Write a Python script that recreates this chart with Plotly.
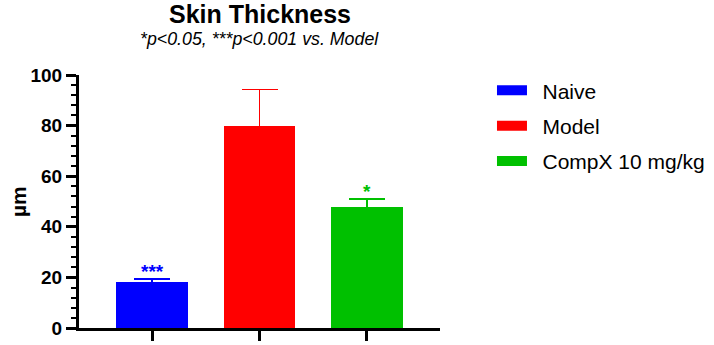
import plotly.graph_objects as go

# Data
groups = ["Naive", "Model", "CompX 10 mg/kg"]
means = [18.3, 79.8, 47.9]
sems = [1.0, 14.5, 3.0]
colors = ["#0000FF", "#FF0000", "#00C000"]
sig_labels = ["***", "", "*"]
y_ticks = [0, 20, 40, 60, 80, 100]

FONT = "Liberation Sans, Arial, sans-serif"

fig = go.Figure()

for i, g in enumerate(groups):
    fig.add_trace(go.Bar(
        x=[g], y=[means[i]],
        marker=dict(color=colors[i], line=dict(width=0)),
        width=0.67,
        error_y=dict(type="data", array=[sems[i]], arrayminus=[means[i]],
                     symmetric=False, color=colors[i], thickness=1.5, width=18),
        showlegend=False,
    ))
    # legend entry (wide rectangular swatch)
    fig.add_trace(go.Scatter(
        x=[None], y=[None], mode="lines", name="\u2002" + g,
        line=dict(color=colors[i], width=13),
        legendgroup=g, showlegend=True,
    ))

annotations = []
for i, g in enumerate(groups):
    if sig_labels[i]:
        annotations.append(dict(
            x=g, y=means[i] + sems[i], xref="x", yref="y",
            text=sig_labels[i], showarrow=False, yanchor="bottom",
            yshift=-5, font=dict(family=FONT, size=19, color=colors[i], weight="bold"),
        ))

annotations += [
    dict(x=0.5, y=1.243, xref="paper", yref="paper", text="<b>Skin Thickness</b>",
         showarrow=False, xanchor="center", yanchor="middle",
         font=dict(family=FONT, size=25, color="black")),
    dict(x=0.5, y=1.142, xref="paper", yref="paper",
         text="<i>*p<0.05, ***p<0.001 vs. Model</i>",
         showarrow=False, xanchor="center", yanchor="middle",
         font=dict(family=FONT, size=17.8, color="black")),
    dict(x=-0.1676, y=0.5, xref="paper", yref="paper", text="<b>µm</b>",
         showarrow=False, textangle=-90, xanchor="center", yanchor="middle",
         font=dict(family=FONT, size=21, color="black")),
]

fig.update_layout(
    width=714, height=345,
    margin=dict(l=79, r=274, t=75, b=17, autoexpand=False),
    paper_bgcolor="white", plot_bgcolor="white",
    bargap=0,
    annotations=annotations,
    legend=dict(x=1.144, y=1.019, xanchor="left", yanchor="top",
                font=dict(family=FONT, size=21, color="black"),
                tracegroupgap=5, bgcolor="rgba(0,0,0,0)"),
    xaxis=dict(type="category", range=[-0.68, 2.68], showline=True, linewidth=3,
               linecolor="black", ticks="outside", ticklen=10, tickwidth=3,
               tickcolor="black", showticklabels=False, showgrid=False,
               zeroline=False, fixedrange=True),
    yaxis=dict(range=[0, 100], tickvals=y_ticks, showline=True, linewidth=3,
               linecolor="black", ticks="outside", ticklen=10, tickwidth=3,
               tickcolor="black", showgrid=False, zeroline=False,
               tickfont=dict(family=FONT, size=19, color="black", weight="bold"),
               minor=dict(dtick=4, ticks="outside", ticklen=5, tickwidth=2,
                          tickcolor="black", showgrid=False),
               fixedrange=True),
)

fig.write_html("out.html")
